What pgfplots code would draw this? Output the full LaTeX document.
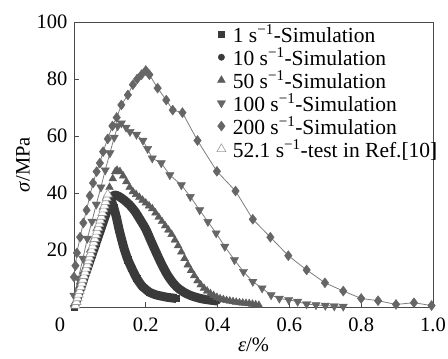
\documentclass[border=0pt]{standalone}
\usepackage{fontspec}
\setmainfont{Liberation Serif}
\usepackage{pgfplots}
\pgfplotsset{compat=1.18}
\usepackage{pgfplotstable}

\definecolor{dk}{HTML}{3A3A3A}
\definecolor{md}{HTML}{5C5C5C}
\definecolor{mg}{HTML}{666666}
\definecolor{ln}{HTML}{7E7E7E}
\definecolor{lt}{HTML}{9A9A9A}
\definecolor{axc}{HTML}{4A4A4A}

\pgfplotstableread{
x y
0.000 0.0
0.020 7.5
0.040 15.0
0.060 22.5
0.080 30.0
0.092 34.8
0.099 36.8
0.105 36.8
0.111 34.8
0.118 31.5
0.125 27.5
0.132 24.0
0.140 20.3
0.150 16.6
0.160 13.8
0.175 10.0
0.190 7.3
0.210 5.2
0.230 4.2
0.260 3.4
0.285 3.0
}\sone

\pgfplotstableread{
x y
0.000 0.0
0.030 11.0
0.060 22.0
0.090 33.0
0.103 37.8
0.112 39.3
0.125 38.8
0.140 37.5
0.155 35.8
0.170 33.5
0.185 30.5
0.200 27.3
0.215 23.0
0.230 18.8
0.245 14.8
0.260 11.3
0.275 8.6
0.290 6.6
0.310 4.9
0.330 3.8
0.355 2.9
0.380 2.4
0.400 2.1
}\sten

\pgfplotstableread{
x y
0.000 1.0
0.009 5.0
0.018 9.0
0.027 12.5
0.036 16.0
0.045 20.0
0.054 23.5
0.063 27.5
0.072 31.0
0.081 35.0
0.090 38.5
0.099 42.0
0.108 45.0
0.115 47.5
0.120 48.0
0.128 47.5
0.137 46.0
0.146 44.0
0.155 42.0
0.164 40.5
0.173 39.5
0.182 38.5
0.191 37.5
0.200 36.5
0.209 35.5
0.218 34.5
0.227 33.0
0.236 31.5
0.245 30.0
0.254 28.5
0.263 27.0
0.272 25.5
0.281 23.5
0.290 21.5
0.299 19.3
0.308 17.0
0.317 14.8
0.326 12.8
0.335 11.0
0.344 9.2
0.353 7.8
0.362 6.6
0.371 5.6
0.380 4.7
0.389 4.0
0.398 3.4
0.407 2.9
0.416 2.6
0.425 2.3
0.434 2.1
0.443 1.9
0.452 1.7
0.461 1.5
0.470 1.4
0.479 1.3
0.488 1.2
0.497 1.0
0.506 0.8
0.515 0.6
}\sfifty

\pgfplotstableread{
x y
0.000 4.0
0.012 10.0
0.025 17.0
0.037 24.0
0.050 30.0
0.062 36.0
0.075 42.0
0.087 48.0
0.100 54.0
0.112 59.5
0.122 63.5
0.132 64.5
0.145 63.0
0.156 61.5
0.174 60.5
0.192 58.4
0.205 55.5
0.218 52.2
0.243 50.5
0.267 46.3
0.299 42.8
0.324 38.7
0.350 34.0
0.373 29.9
0.396 25.9
0.420 21.2
0.447 16.5
0.472 12.4
0.498 8.9
0.524 6.6
0.549 4.2
0.572 3.0
0.598 2.5
0.623 1.9
0.648 1.0
0.674 0.7
0.700 0.5
0.725 0.3
0.750 0.2
}\shundred

\pgfplotstableread{
x y
0.000 10.5
0.004 14.5
0.008 19.0
0.017 24.5
0.026 29.5
0.035 34.0
0.044 39.0
0.053 43.5
0.063 47.5
0.072 50.5
0.081 54.5
0.094 59.0
0.107 63.5
0.119 66.5
0.132 70.9
0.150 74.4
0.164 78.0
0.176 80.0
0.188 81.5
0.200 83.0
0.210 81.5
0.233 76.8
0.257 72.6
0.275 69.1
0.302 68.2
0.344 58.4
0.398 47.6
0.450 40.7
0.498 30.8
0.547 24.5
0.597 18.0
0.648 13.0
0.699 8.5
0.750 5.6
0.800 3.0
0.847 2.2
0.897 0.9
0.947 1.5
0.996 0.5
}\stwohundred

\pgfplotstableread{
x y
0.004 0.5
0.007 1.8
0.010 3.1
0.013 4.4
0.016 5.7
0.019 7.0
0.022 8.3
0.025 9.6
0.028 10.9
0.031 12.2
0.034 13.5
0.037 14.8
0.040 16.1
0.043 17.4
0.046 18.7
0.049 20.0
0.052 21.3
0.055 22.6
0.058 23.9
0.061 25.2
0.064 26.5
0.067 27.8
0.070 29.1
0.073 30.4
0.076 31.7
0.079 33.0
0.082 34.3
0.085 35.6
0.088 36.9
0.091 38.2
0.094 39.5
}\stest

\begin{document}
\begin{tikzpicture}
\begin{axis}[
  scale only axis, width=359pt, height=285pt,
  xmin=0, xmax=1, ymin=0, ymax=100,
  font=\fontsize{20.5}{24}\selectfont,
  /pgf/number format/assume math mode=true,
  axis line style={axc, line width=0.8pt},
  tick style={axc, line width=0.8pt},
  tick align=inside, tick pos=left, major tick length=5pt,
  xtick={0.2,0.4,0.6,0.8,1.0},
  xticklabels={0.2,0.4,0.6,0.8,1.0},
  extra x ticks={0}, extra x tick labels={0},
  extra x tick style={major tick length=0pt, xticklabel style={xshift=-14pt}},
  ytick={20,40,60,80,100},
  xticklabel style={yshift=-7pt},
  yticklabel style={xshift=-3pt},
  xlabel={\textit{ε}/\%},
  xlabel style={yshift=0pt},
  ylabel={\textit{σ}/MPa},
  legend style={at={(axis cs:0.385,100.5)}, anchor=north west, draw=none, fill=none,
    font=\fontsize{21.5}{24}\selectfont, row sep=0pt,
    legend cell align=left},
  legend image code/.code={\draw[#1] plot coordinates {(0.2cm,0cm)}; \path (0cm,0cm) (0.52cm,0cm);},
]
\coordinate (O) at (rel axis cs:0,0);
% 1 s^-1
\addplot[forget plot, dk, line width=9pt, line join=round, smooth, tension=0.3] table {\sone};
\addplot[only marks, mark=square*, mark size=3.2pt, draw=dk, fill=dk] table {\sone};
\addlegendentry{1 s\textsuperscript{−1}-Simulation}
% 10 s^-1
\addplot[forget plot, dk, line width=9pt, line join=round, smooth, tension=0.4] table {\sten};
\addplot[only marks, mark=*, mark size=3.2pt, draw=dk, fill=dk] table {\sten};
\addlegendentry{10 s\textsuperscript{−1}-Simulation}
% 50 s^-1
\addplot[only marks, mark=triangle*, mark size=4.5pt, draw=md, fill=md] table {\sfifty};
\addlegendentry{50 s\textsuperscript{−1}-Simulation}
% 100 s^-1
\addplot[forget plot, ln, line width=0.8pt] table {\shundred};
\addplot[only marks, mark=triangle*, mark options={rotate=180}, mark size=4.8pt, draw=mg, fill=mg] table {\shundred};
\addlegendentry{100 s\textsuperscript{−1}-Simulation}
% 200 s^-1
\addplot[forget plot, ln, line width=0.8pt] table {\stwohundred};
\addplot[only marks, mark=diamond*, mark size=5pt, draw=mg, fill=mg] table {\stwohundred};
\addlegendentry{200 s\textsuperscript{−1}-Simulation}
% test
\addplot[only marks, mark=triangle*, mark size=5.2pt, draw=lt, fill=white, line width=0.6pt] table {\stest};
\addlegendentry{52.1 s\textsuperscript{−1}-test in Ref.[10]}
\end{axis}
\pgfresetboundingbox
\path[use as bounding box] ([shift={(-74pt,-52pt)}]O) rectangle ([shift={(374pt,307pt)}]O);
\end{tikzpicture}
\end{document}
